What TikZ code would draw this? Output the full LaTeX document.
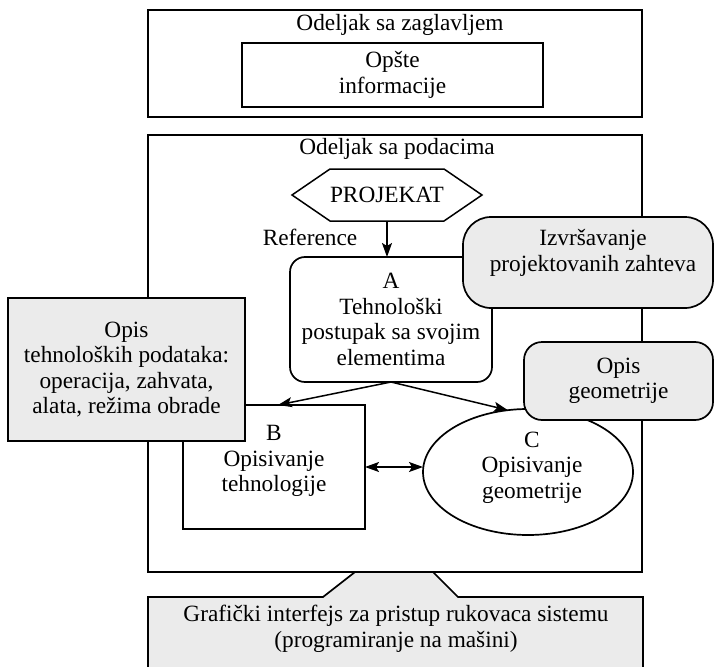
\documentclass[tikz,border=0pt]{standalone}
\usepackage{fontspec}
\setmainfont{Liberation Serif}
\usetikzlibrary{arrows.meta,shapes.geometric}
\definecolor{greyfill}{RGB}{235,235,235}
\begin{document}
\begin{tikzpicture}[x=1pt,y=-1pt,
  every node/.style={font=\fontsize{23.3}{25.5}\selectfont, align=center, inner sep=0pt, outer sep=0pt},
  frame/.style={draw, line width=1.7pt, rectangle},
  greybox/.style={draw, line width=1.7pt, fill=greyfill},
  arr/.style={line width=1.5pt, -{Stealth[length=14pt,width=10pt,inset=3pt]}},
  darr/.style={line width=1.5pt, {Stealth[length=14pt,width=10pt,inset=3pt]}-{Stealth[length=14pt,width=10pt,inset=3pt]}},
  plain/.style={line width=1.5pt}
]
\useasboundingbox (0,0) rectangle (714,666);

% header section
\node[frame, minimum width=494pt, minimum height=107pt] (hdr) at (395,63.5) {};
\node (hdrtitle) at (400,25) {Odeljak sa zaglavljem};
\node[frame, minimum width=301pt, minimum height=64pt] (opste) at (392.5,75) {Opšte\\informacije};

% data section
\node[frame, minimum width=494pt, minimum height=437pt] (data) at (395,353.5) {};
\node (datatitle) at (397,149) {Odeljak sa podacima};

% PROJEKAT hexagon
\node[minimum width=190pt, minimum height=52pt] (proj) at (387,195) {PROJEKAT};
\draw[plain] (proj.west) -- ([xshift=38pt]proj.north west) -- ([xshift=-38pt]proj.north east)
  -- (proj.east) -- ([xshift=-38pt]proj.south east) -- ([xshift=38pt]proj.south west) -- cycle;
\node (ref) at (310,237) {Reference};

% A
\node[draw, line width=1.7pt, rounded corners=15pt, minimum width=202pt, minimum height=125pt] (A) at (391,319.5)
  {A\\Tehnološki\\postupak sa svojim\\elementima};

% B
\node[frame, minimum width=182pt, minimum height=124pt] (B) at (274,467) {};
\node (Btxt) at (274,461) {B\\Opisivanje\\tehnologije};

% C
\node[draw, ellipse, line width=1.7pt, minimum width=210pt, minimum height=126pt] (C) at (528,472) {};
\node (Ctxt) at (532,467.5) {C\\Opisivanje\\geometrije};

% connectors
\draw[arr] (proj.south) -- (proj.south |- A.north);
\draw[arr] (A.south) -- ([xshift=4pt]B.north);
\draw[arr] (A.south) -- (C.108);
\draw[darr] (B.east) -- (B.east -| C.west);

% grey boxes
\node[greybox, rounded corners=28pt, minimum width=250pt, minimum height=91pt] (izv) at (588,262.5) {};
\node (izvtxt) at (593,253) {Izvršavanje\\projektovanih zahteva};

\node[greybox, minimum width=237pt, minimum height=143pt] (opis) at (126.5,369.5)
  {Opis\\tehnoloških podataka:\\operacija, zahvata,\\alata, režima obrade};

\node[greybox, rounded corners=18pt, minimum width=189pt, minimum height=78pt] (geo) at (618.5,381)
  {Opis\\geometrije};

% GUI section
\draw[greybox] (148,675) -- (148,597) -- (323,597) -- (355,572) -- (433,572) -- (458,597) -- (643,597) -- (643,675);
\node (gui) at (396,629) {Grafički interfejs za pristup rukovaca sistemu\\(programiranje na mašini)};
\end{tikzpicture}
\end{document}
